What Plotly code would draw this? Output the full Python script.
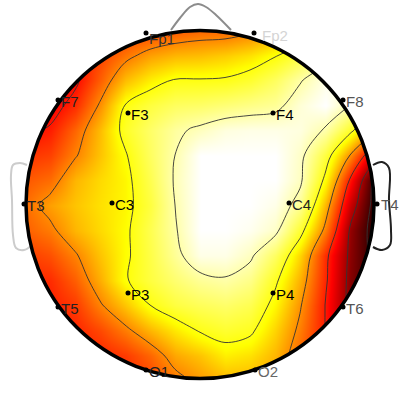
import plotly.graph_objects as go
import numpy as np

# head units are 1:1 with picture pixels
x_grid = [25, 50, 75, 100, 125, 150, 175, 200, 225, 250, 275, 300, 325, 350, 375]
y_grid = [30, 55, 80, 105, 130, 155, 180, 205, 230, 255, 280, 305, 330, 355, 380]

z_grid = [
    [.38, .38, .38, .38, .40, .42, .45, .47, .47, .50, .55, .60, .65, .70, .70],
    [.34, .34, .36, .42, .49, .55, .58, .59, .61, .64, .69, .76, .85, .95, .95],
    [.30, .31, .34, .46, .59, .66, .705, .705, .71, .74, .80, .89, .97, .98, .95],
    [.30, .32, .39, .53, .70, .76, .80, .81, .83, .85, .87, .95, 1.0, .90, .70],
    [.34, .37, .47, .59, .73, .81, .88, .92, .96, .97, .97, .96, .89, .73, .55],
    [.40, .42, .51, .60, .69, .80, .90, 1.0, 1.0, 1.0, 1.0, .93, .76, .52, .25],
    [.45, .48, .58, .63, .67, .78, .91, 1.0, 1.0, 1.0, 1.0, .92, .68, .35, .05],
    [.48, .55, .60, .64, .67, .76, .90, 1.0, 1.0, 1.0, .97, .86, .58, .26, .04],
    [.46, .50, .58, .63, .68, .78, .89, 1.0, 1.0, .98, .93, .74, .50, .19, .03],
    [.41, .44, .51, .60, .68, .77, .87, .97, .97, .92, .80, .62, .39, .18, .04],
    [.38, .39, .46, .57, .69, .76, .82, .87, .89, .85, .72, .57, .38, .17, .05],
    [.37, .37, .41, .51, .60, .70, .76, .79, .81, .78, .67, .53, .36, .17, .05],
    [.37, .37, .38, .43, .50, .58, .65, .71, .74, .72, .62, .50, .36, .18, .10],
    [.37, .37, .37, .38, .41, .47, .56, .60, .66, .64, .58, .47, .35, .20, .10],
    [.37, .37, .37, .37, .38, .42, .49, .54, .58, .58, .55, .46, .35, .20, .10],
]

contour_levels = [.08, .2, .36, .52, .7, .9]

names = ['Fp1', 'Fp2', 'F7', 'F3', 'F4', 'F8', 'T3', 'C3', 'C4', 'T4', 'T5', 'P3', 'P4', 'T6', 'O1', 'O2']
name_x = [146, 254, 58, 128, 273, 343, 24, 112, 289, 377, 58, 128, 273, 343, 146, 255]
name_y = [33, 33, 100, 113, 113, 100, 204, 203, 203, 204, 307, 293, 293, 307, 370, 370]
label_x = [147, 260, 59, 129, 274, 344, 25, 113, 290, 379, 59, 129, 274, 344, 147, 256]
label_y = [38, 35, 101, 114, 114, 101, 205, 204, 204, 204, 308, 294, 294, 308, 371, 371]
name_colors = ['#333333', '#d4d4d4', '#222222', '#000000', '#000000', '#555555', '#222222', '#000000',
               '#222222', '#555555', '#222222', '#000000', '#000000', '#555555', '#222222', '#666666']

head_cx, head_cy, head_r = 200, 204.5, 174

hot_scale = [[0, '#000000'], [0.33, '#ff0000'], [0.68, '#ffff00'], [1, '#ffffff']]

fig = go.Figure()

fig.add_trace(go.Heatmap(x=x_grid, y=y_grid, z=z_grid, zmin=0, zmax=1, zsmooth='best',
                         colorscale=hot_scale, showscale=False, hoverinfo='skip'))

for level in contour_levels:
    fig.add_trace(go.Contour(x=x_grid, y=y_grid, z=z_grid, showscale=False, hoverinfo='skip',
                             contours=dict(coloring='none', start=level, end=level, size=1),
                             line=dict(color='#333333', width=0.9), line_smoothing=1))

# white cover with a round hole: the outer box and the circle wind opposite ways
t = np.linspace(0, 2 * np.pi, 361)
cover_x = [-20, 420, 420, -20, -20] + list(head_cx + (head_r + 1) * np.cos(t))
cover_y = [-20, -20, 420, 420, -20] + list(head_cy + (head_r + 1) * np.sin(-t))
fig.add_trace(go.Scatter(x=cover_x, y=cover_y, mode='lines', fill='toself', fillcolor='white',
                         line=dict(width=0), hoverinfo='skip'))

# nose and ears
fig.add_trace(go.Scatter(x=[171, 180, 190, 198, 206, 216, 231], y=[30, 18, 7, 4, 7, 15, 30], mode='lines',
                         line=dict(color='#8c8c8c', width=2), line_shape='spline', hoverinfo='skip'))
fig.add_trace(go.Scatter(x=[27, 20, 13, 11, 12, 13, 16, 24, 31], y=[165, 163, 165, 175, 200, 235, 248, 250, 246],
                         mode='lines', line=dict(color='#cccccc', width=2), line_shape='spline', hoverinfo='skip'))
fig.add_trace(go.Scatter(x=[373, 382, 389, 389, 391, 390, 382, 373], y=[165, 162, 168, 200, 230, 245, 250, 247],
                         mode='lines', line=dict(color='#222222', width=2), line_shape='spline', hoverinfo='skip'))

fig.add_shape(type='circle', x0=head_cx - head_r, x1=head_cx + head_r, y0=head_cy - head_r, y1=head_cy + head_r,
              line=dict(color='black', width=3.5), layer='above')

fig.add_trace(go.Scatter(x=name_x, y=name_y, mode='markers', marker=dict(color='black', size=5), hoverinfo='skip'))
for n, lx, ly, nc in zip(names, label_x, label_y, name_colors):
    fig.add_annotation(x=lx, y=ly, text=n, showarrow=False, xanchor='left',
                       font=dict(family='Liberation Sans', size=15, color=nc))

fig.update_xaxes(range=[0, 400], visible=False)
fig.update_yaxes(range=[400, 0], visible=False)
fig.update_layout(width=400, height=400, margin=dict(l=0, r=0, t=0, b=0), showlegend=False,
                  plot_bgcolor='white', paper_bgcolor='white')

fig.write_html("out.html", config=dict(displayModeBar=False), post_script="document.body.style.margin='0';")
